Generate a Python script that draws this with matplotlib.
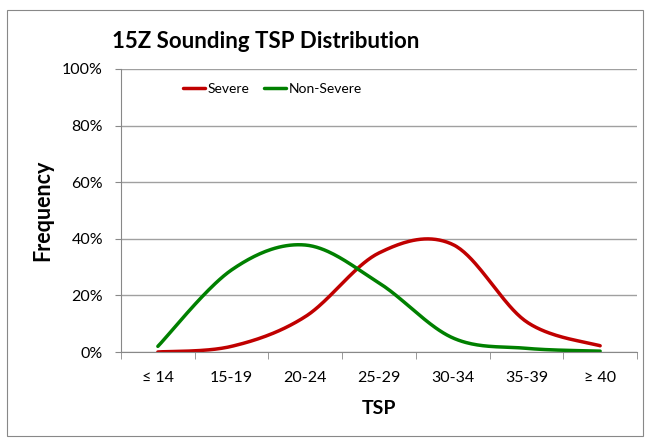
import numpy as np
import matplotlib.pyplot as plt
from matplotlib.patches import Rectangle

categories = ['≤ 14', '15-19', '20-24', '25-29', '30-34', '35-39', '≥ 40']
severe = [0.0, 2.0, 12.5, 35.0, 38.0, 10.7, 2.2]
non_severe = [2.0, 29.0, 37.8, 24.4, 5.0, 1.3, 0.3]


def smooth(y, n=40):
    # Excel-style smoothed line (Catmull-Rom bezier)
    y = np.asarray(y, dtype=float)
    x = np.arange(len(y), dtype=float)
    pts = np.column_stack([x, y])
    ext = np.vstack([pts[0], pts, pts[-1]])
    out = []
    t = np.linspace(0, 1, n)[:, None]
    for i in range(1, len(ext) - 2):
        p0, p1, p2, p3 = ext[i - 1], ext[i], ext[i + 1], ext[i + 2]
        c1 = p1 + (p2 - p0) / 6
        c2 = p2 - (p3 - p1) / 6
        seg = ((1 - t) ** 3) * p1 + 3 * ((1 - t) ** 2) * t * c1 + 3 * (1 - t) * t ** 2 * c2 + t ** 3 * p2
        out.append(seg if i == 1 else seg[1:])
    out = np.vstack(out)
    return out[:, 0], out[:, 1]


plt.rcParams['font.family'] = ['Lato', 'DejaVu Sans']

W, H = 649, 438
fig = plt.figure(figsize=(W / 100, H / 100), dpi=100)
fig.patches.append(Rectangle((7 / W, 2 / H), 636 / W, 426 / H, transform=fig.transFigure,
                             fill=False, edgecolor='#888888', linewidth=0.8))

ax = fig.add_axes([121 / W, (H - 352) / H, 516 / W, 283 / H])

xs, ys = smooth(severe)
ax.plot(xs, ys, color='#c00000', linewidth=2.5, label='Severe', solid_capstyle='round')
xn, yn = smooth(non_severe)
ax.plot(xn, yn, color='#008000', linewidth=2.5, label='Non-Severe', solid_capstyle='round')

ax.set_xlim(-0.5, 6.5)
ax.set_ylim(0, 100)
ax.set_yticks(np.arange(0, 101, 20))
ax.set_yticklabels([f'{v}%' for v in range(0, 101, 20)], fontsize=11.5)
ax.set_xticks(range(len(categories)))
ax.set_xticklabels(categories, fontsize=11.5)
ax.set_xticks(np.arange(-0.5, 7, 1), minor=True)
ax.tick_params(axis='x', which='major', length=0, pad=14)
ax.tick_params(axis='x', which='minor', length=5, color='#888888')
ax.tick_params(axis='y', length=4, color='#888888', pad=9)
ax.grid(axis='y', color='#a0a0a0', linewidth=1)
ax.set_axisbelow(True)
for s in ['top', 'right']:
    ax.spines[s].set_visible(False)
for s in ['left', 'bottom']:
    ax.spines[s].set_color('#888888')

ax.set_xlabel('TSP', fontsize=14, fontweight='bold')
ax.xaxis.set_label_coords(0.5, -(400 - 352) / 283, transform=ax.transAxes)
ax.set_ylabel('Frequency', fontsize=15.5, fontweight='bold')
ax.yaxis.set_label_coords(-(121 - 53) / 516, 0.5, transform=ax.transAxes)
fig.text(266 / W, 1 - 41 / H, '15Z Sounding TSP Distribution', fontsize=16, fontweight='bold',
         ha='center', va='center')

ax.legend(loc='center left', bbox_to_anchor=(0.12, 0.929), ncol=2, frameon=False, fontsize=10,
          handlelength=1.6, handletextpad=0.2, columnspacing=1.0, borderpad=0, borderaxespad=0)

fig.savefig('out.png', dpi=100)
